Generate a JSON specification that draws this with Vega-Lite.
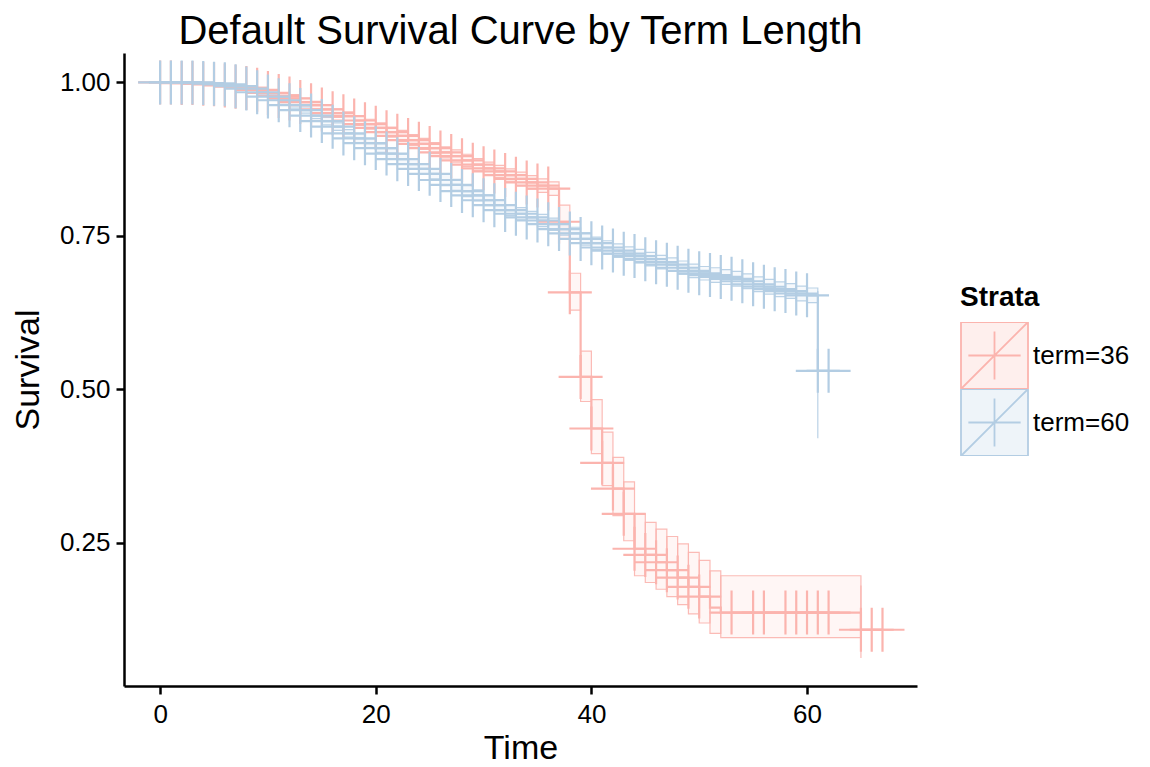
{
  "$schema": "https://vega.github.io/schema/vega-lite/v6.json",
  "width": 793,
  "height": 633,
  "autosize": {"type": "none"},
  "padding": {"left": 124, "top": 53, "right": 233, "bottom": 81},
  "background": "white",
  "config": {
    "view": {"stroke": null},
    "font": "Liberation Sans",
    "axis": {"grid": false, "domainColor": "black", "domainWidth": 2.5, "tickColor": "black", "tickWidth": 2.5, "tickSize": 8, "labelColor": "black", "labelFont": "Liberation Sans", "labelFontSize": 26, "titleFont": "Liberation Sans", "titleFontSize": 34, "titleFontWeight": "normal", "titleColor": "black"}
  },
  "title": {"text": "Default Survival Curve by Term Length", "fontSize": 40, "font": "Liberation Sans", "fontWeight": "normal", "anchor": "middle", "frame": "group", "offset": 1, "color": "black"},
  "datasets": {
    "curve": [
      {"strata": "term=36", "time": 0, "surv": 1.000, "censored": 1},
      {"strata": "term=36", "time": 1, "surv": 1.000, "censored": 1},
      {"strata": "term=36", "time": 2, "surv": 0.999, "censored": 1},
      {"strata": "term=36", "time": 3, "surv": 0.999, "censored": 1},
      {"strata": "term=36", "time": 4, "surv": 0.998, "censored": 1},
      {"strata": "term=36", "time": 5, "surv": 0.997, "censored": 1},
      {"strata": "term=36", "time": 6, "surv": 0.995, "censored": 1},
      {"strata": "term=36", "time": 7, "surv": 0.993, "censored": 1},
      {"strata": "term=36", "time": 8, "surv": 0.991, "censored": 1},
      {"strata": "term=36", "time": 9, "surv": 0.988, "censored": 1},
      {"strata": "term=36", "time": 10, "surv": 0.983, "censored": 1},
      {"strata": "term=36", "time": 11, "surv": 0.978, "censored": 1},
      {"strata": "term=36", "time": 12, "surv": 0.974, "censored": 1},
      {"strata": "term=36", "time": 13, "surv": 0.968, "censored": 1},
      {"strata": "term=36", "time": 14, "surv": 0.963, "censored": 1},
      {"strata": "term=36", "time": 15, "surv": 0.956, "censored": 1},
      {"strata": "term=36", "time": 16, "surv": 0.950, "censored": 1},
      {"strata": "term=36", "time": 17, "surv": 0.945, "censored": 1},
      {"strata": "term=36", "time": 18, "surv": 0.938, "censored": 1},
      {"strata": "term=36", "time": 19, "surv": 0.932, "censored": 1},
      {"strata": "term=36", "time": 20, "surv": 0.926, "censored": 1},
      {"strata": "term=36", "time": 21, "surv": 0.919, "censored": 1},
      {"strata": "term=36", "time": 22, "surv": 0.913, "censored": 1},
      {"strata": "term=36", "time": 23, "surv": 0.906, "censored": 1},
      {"strata": "term=36", "time": 24, "surv": 0.900, "censored": 1},
      {"strata": "term=36", "time": 25, "surv": 0.893, "censored": 1},
      {"strata": "term=36", "time": 26, "surv": 0.886, "censored": 1},
      {"strata": "term=36", "time": 27, "surv": 0.880, "censored": 1},
      {"strata": "term=36", "time": 28, "surv": 0.873, "censored": 1},
      {"strata": "term=36", "time": 29, "surv": 0.866, "censored": 1},
      {"strata": "term=36", "time": 30, "surv": 0.860, "censored": 1},
      {"strata": "term=36", "time": 31, "surv": 0.855, "censored": 1},
      {"strata": "term=36", "time": 32, "surv": 0.849, "censored": 1},
      {"strata": "term=36", "time": 33, "surv": 0.843, "censored": 1},
      {"strata": "term=36", "time": 34, "surv": 0.837, "censored": 1},
      {"strata": "term=36", "time": 35, "surv": 0.832, "censored": 1},
      {"strata": "term=36", "time": 36, "surv": 0.827, "censored": 1},
      {"strata": "term=36", "time": 37, "surv": 0.773, "censored": 1},
      {"strata": "term=36", "time": 38, "surv": 0.658, "censored": 1},
      {"strata": "term=36", "time": 39, "surv": 0.520, "censored": 1},
      {"strata": "term=36", "time": 40, "surv": 0.436, "censored": 1},
      {"strata": "term=36", "time": 41, "surv": 0.380, "censored": 1},
      {"strata": "term=36", "time": 42, "surv": 0.338, "censored": 1},
      {"strata": "term=36", "time": 43, "surv": 0.297, "censored": 1},
      {"strata": "term=36", "time": 44, "surv": 0.240, "censored": 1},
      {"strata": "term=36", "time": 45, "surv": 0.230, "censored": 1},
      {"strata": "term=36", "time": 46, "surv": 0.218, "censored": 1},
      {"strata": "term=36", "time": 47, "surv": 0.205, "censored": 1},
      {"strata": "term=36", "time": 48, "surv": 0.193, "censored": 1},
      {"strata": "term=36", "time": 49, "surv": 0.178, "censored": 1},
      {"strata": "term=36", "time": 50, "surv": 0.162, "censored": 1},
      {"strata": "term=36", "time": 51, "surv": 0.144, "censored": 0},
      {"strata": "term=36", "time": 52, "surv": 0.136, "censored": 0},
      {"strata": "term=36", "time": 53, "surv": 0.136, "censored": 1},
      {"strata": "term=36", "time": 55, "surv": 0.136, "censored": 1},
      {"strata": "term=36", "time": 56, "surv": 0.136, "censored": 1},
      {"strata": "term=36", "time": 58, "surv": 0.136, "censored": 1},
      {"strata": "term=36", "time": 59, "surv": 0.136, "censored": 1},
      {"strata": "term=36", "time": 60, "surv": 0.136, "censored": 1},
      {"strata": "term=36", "time": 61, "surv": 0.136, "censored": 1},
      {"strata": "term=36", "time": 62, "surv": 0.136, "censored": 1},
      {"strata": "term=36", "time": 65, "surv": 0.108, "censored": 1},
      {"strata": "term=36", "time": 66, "surv": 0.108, "censored": 1},
      {"strata": "term=36", "time": 67, "surv": 0.108, "censored": 1},
      {"strata": "term=60", "time": 0, "surv": 1.000, "censored": 1},
      {"strata": "term=60", "time": 1, "surv": 1.000, "censored": 1},
      {"strata": "term=60", "time": 2, "surv": 1.000, "censored": 1},
      {"strata": "term=60", "time": 3, "surv": 1.000, "censored": 1},
      {"strata": "term=60", "time": 4, "surv": 0.999, "censored": 1},
      {"strata": "term=60", "time": 5, "surv": 0.998, "censored": 1},
      {"strata": "term=60", "time": 6, "surv": 0.997, "censored": 1},
      {"strata": "term=60", "time": 7, "surv": 0.994, "censored": 1},
      {"strata": "term=60", "time": 8, "surv": 0.990, "censored": 1},
      {"strata": "term=60", "time": 9, "surv": 0.984, "censored": 1},
      {"strata": "term=60", "time": 10, "surv": 0.977, "censored": 1},
      {"strata": "term=60", "time": 11, "surv": 0.971, "censored": 1},
      {"strata": "term=60", "time": 12, "surv": 0.963, "censored": 1},
      {"strata": "term=60", "time": 13, "surv": 0.955, "censored": 1},
      {"strata": "term=60", "time": 14, "surv": 0.946, "censored": 1},
      {"strata": "term=60", "time": 15, "surv": 0.937, "censored": 1},
      {"strata": "term=60", "time": 16, "surv": 0.928, "censored": 1},
      {"strata": "term=60", "time": 17, "surv": 0.917, "censored": 1},
      {"strata": "term=60", "time": 18, "surv": 0.909, "censored": 1},
      {"strata": "term=60", "time": 19, "surv": 0.901, "censored": 1},
      {"strata": "term=60", "time": 20, "surv": 0.893, "censored": 1},
      {"strata": "term=60", "time": 21, "surv": 0.884, "censored": 1},
      {"strata": "term=60", "time": 22, "surv": 0.875, "censored": 1},
      {"strata": "term=60", "time": 23, "surv": 0.867, "censored": 1},
      {"strata": "term=60", "time": 24, "surv": 0.859, "censored": 1},
      {"strata": "term=60", "time": 25, "surv": 0.851, "censored": 1},
      {"strata": "term=60", "time": 26, "surv": 0.841, "censored": 1},
      {"strata": "term=60", "time": 27, "surv": 0.833, "censored": 1},
      {"strata": "term=60", "time": 28, "surv": 0.823, "censored": 1},
      {"strata": "term=60", "time": 29, "surv": 0.816, "censored": 1},
      {"strata": "term=60", "time": 30, "surv": 0.808, "censored": 1},
      {"strata": "term=60", "time": 31, "surv": 0.800, "censored": 1},
      {"strata": "term=60", "time": 32, "surv": 0.792, "censored": 1},
      {"strata": "term=60", "time": 33, "surv": 0.786, "censored": 1},
      {"strata": "term=60", "time": 34, "surv": 0.780, "censored": 1},
      {"strata": "term=60", "time": 35, "surv": 0.775, "censored": 1},
      {"strata": "term=60", "time": 36, "surv": 0.769, "censored": 1},
      {"strata": "term=60", "time": 37, "surv": 0.761, "censored": 1},
      {"strata": "term=60", "time": 38, "surv": 0.754, "censored": 1},
      {"strata": "term=60", "time": 39, "surv": 0.745, "censored": 1},
      {"strata": "term=60", "time": 40, "surv": 0.738, "censored": 1},
      {"strata": "term=60", "time": 41, "surv": 0.731, "censored": 1},
      {"strata": "term=60", "time": 42, "surv": 0.726, "censored": 1},
      {"strata": "term=60", "time": 43, "surv": 0.721, "censored": 1},
      {"strata": "term=60", "time": 44, "surv": 0.717, "censored": 1},
      {"strata": "term=60", "time": 45, "surv": 0.712, "censored": 1},
      {"strata": "term=60", "time": 46, "surv": 0.707, "censored": 1},
      {"strata": "term=60", "time": 47, "surv": 0.703, "censored": 1},
      {"strata": "term=60", "time": 48, "surv": 0.698, "censored": 1},
      {"strata": "term=60", "time": 49, "surv": 0.693, "censored": 1},
      {"strata": "term=60", "time": 50, "surv": 0.689, "censored": 1},
      {"strata": "term=60", "time": 51, "surv": 0.686, "censored": 1},
      {"strata": "term=60", "time": 52, "surv": 0.683, "censored": 1},
      {"strata": "term=60", "time": 53, "surv": 0.680, "censored": 1},
      {"strata": "term=60", "time": 54, "surv": 0.676, "censored": 1},
      {"strata": "term=60", "time": 55, "surv": 0.671, "censored": 1},
      {"strata": "term=60", "time": 56, "surv": 0.667, "censored": 1},
      {"strata": "term=60", "time": 57, "surv": 0.663, "censored": 1},
      {"strata": "term=60", "time": 58, "surv": 0.660, "censored": 1},
      {"strata": "term=60", "time": 59, "surv": 0.656, "censored": 1},
      {"strata": "term=60", "time": 60, "surv": 0.653, "censored": 1},
      {"strata": "term=60", "time": 61, "surv": 0.530, "censored": 1},
      {"strata": "term=60", "time": 62, "surv": 0.530, "censored": 1}
    ],
    "band": [
      {"strata": "term=36", "start": 0, "end": 1, "lower": 1.000, "upper": 1.000},
      {"strata": "term=36", "start": 1, "end": 2, "lower": 1.000, "upper": 1.000},
      {"strata": "term=36", "start": 2, "end": 3, "lower": 0.998, "upper": 1.000},
      {"strata": "term=36", "start": 3, "end": 4, "lower": 0.998, "upper": 1.000},
      {"strata": "term=36", "start": 4, "end": 5, "lower": 0.996, "upper": 1.000},
      {"strata": "term=36", "start": 5, "end": 6, "lower": 0.995, "upper": 0.999},
      {"strata": "term=36", "start": 6, "end": 7, "lower": 0.992, "upper": 0.998},
      {"strata": "term=36", "start": 7, "end": 8, "lower": 0.990, "upper": 0.996},
      {"strata": "term=36", "start": 8, "end": 9, "lower": 0.987, "upper": 0.995},
      {"strata": "term=36", "start": 9, "end": 10, "lower": 0.984, "upper": 0.992},
      {"strata": "term=36", "start": 10, "end": 11, "lower": 0.978, "upper": 0.988},
      {"strata": "term=36", "start": 11, "end": 12, "lower": 0.973, "upper": 0.983},
      {"strata": "term=36", "start": 12, "end": 13, "lower": 0.968, "upper": 0.980},
      {"strata": "term=36", "start": 13, "end": 14, "lower": 0.962, "upper": 0.974},
      {"strata": "term=36", "start": 14, "end": 15, "lower": 0.957, "upper": 0.969},
      {"strata": "term=36", "start": 15, "end": 16, "lower": 0.949, "upper": 0.963},
      {"strata": "term=36", "start": 16, "end": 17, "lower": 0.943, "upper": 0.957},
      {"strata": "term=36", "start": 17, "end": 18, "lower": 0.938, "upper": 0.952},
      {"strata": "term=36", "start": 18, "end": 19, "lower": 0.930, "upper": 0.946},
      {"strata": "term=36", "start": 19, "end": 20, "lower": 0.924, "upper": 0.940},
      {"strata": "term=36", "start": 20, "end": 21, "lower": 0.918, "upper": 0.934},
      {"strata": "term=36", "start": 21, "end": 22, "lower": 0.911, "upper": 0.927},
      {"strata": "term=36", "start": 22, "end": 23, "lower": 0.904, "upper": 0.922},
      {"strata": "term=36", "start": 23, "end": 24, "lower": 0.897, "upper": 0.915},
      {"strata": "term=36", "start": 24, "end": 25, "lower": 0.891, "upper": 0.909},
      {"strata": "term=36", "start": 25, "end": 26, "lower": 0.884, "upper": 0.902},
      {"strata": "term=36", "start": 26, "end": 27, "lower": 0.877, "upper": 0.895},
      {"strata": "term=36", "start": 27, "end": 28, "lower": 0.870, "upper": 0.890},
      {"strata": "term=36", "start": 28, "end": 29, "lower": 0.863, "upper": 0.883},
      {"strata": "term=36", "start": 29, "end": 30, "lower": 0.856, "upper": 0.876},
      {"strata": "term=36", "start": 30, "end": 31, "lower": 0.850, "upper": 0.870},
      {"strata": "term=36", "start": 31, "end": 32, "lower": 0.845, "upper": 0.865},
      {"strata": "term=36", "start": 32, "end": 33, "lower": 0.839, "upper": 0.859},
      {"strata": "term=36", "start": 33, "end": 34, "lower": 0.832, "upper": 0.854},
      {"strata": "term=36", "start": 34, "end": 35, "lower": 0.826, "upper": 0.848},
      {"strata": "term=36", "start": 35, "end": 36, "lower": 0.821, "upper": 0.843},
      {"strata": "term=36", "start": 36, "end": 37, "lower": 0.816, "upper": 0.838},
      {"strata": "term=36", "start": 37, "end": 38, "lower": 0.745, "upper": 0.800},
      {"strata": "term=36", "start": 38, "end": 39, "lower": 0.629, "upper": 0.689},
      {"strata": "term=36", "start": 39, "end": 40, "lower": 0.480, "upper": 0.562},
      {"strata": "term=36", "start": 40, "end": 41, "lower": 0.395, "upper": 0.483},
      {"strata": "term=36", "start": 41, "end": 42, "lower": 0.343, "upper": 0.430},
      {"strata": "term=36", "start": 42, "end": 43, "lower": 0.294, "upper": 0.389},
      {"strata": "term=36", "start": 43, "end": 44, "lower": 0.253, "upper": 0.349},
      {"strata": "term=36", "start": 44, "end": 45, "lower": 0.196, "upper": 0.297},
      {"strata": "term=36", "start": 45, "end": 46, "lower": 0.185, "upper": 0.283},
      {"strata": "term=36", "start": 46, "end": 47, "lower": 0.174, "upper": 0.272},
      {"strata": "term=36", "start": 47, "end": 48, "lower": 0.162, "upper": 0.260},
      {"strata": "term=36", "start": 48, "end": 49, "lower": 0.149, "upper": 0.248},
      {"strata": "term=36", "start": 49, "end": 50, "lower": 0.134, "upper": 0.234},
      {"strata": "term=36", "start": 50, "end": 51, "lower": 0.119, "upper": 0.221},
      {"strata": "term=36", "start": 51, "end": 52, "lower": 0.102, "upper": 0.204},
      {"strata": "term=36", "start": 52, "end": 65, "lower": 0.095, "upper": 0.196},
      {"strata": "term=36", "start": 65, "end": 65, "lower": 0.062, "upper": 0.180},
      {"strata": "term=60", "start": 0, "end": 1, "lower": 1.000, "upper": 1.000},
      {"strata": "term=60", "start": 1, "end": 2, "lower": 1.000, "upper": 1.000},
      {"strata": "term=60", "start": 2, "end": 3, "lower": 1.000, "upper": 1.000},
      {"strata": "term=60", "start": 3, "end": 4, "lower": 1.000, "upper": 1.000},
      {"strata": "term=60", "start": 4, "end": 5, "lower": 0.998, "upper": 1.000},
      {"strata": "term=60", "start": 5, "end": 6, "lower": 0.997, "upper": 0.999},
      {"strata": "term=60", "start": 6, "end": 7, "lower": 0.995, "upper": 0.999},
      {"strata": "term=60", "start": 7, "end": 8, "lower": 0.992, "upper": 0.996},
      {"strata": "term=60", "start": 8, "end": 9, "lower": 0.987, "upper": 0.993},
      {"strata": "term=60", "start": 9, "end": 10, "lower": 0.981, "upper": 0.987},
      {"strata": "term=60", "start": 10, "end": 11, "lower": 0.973, "upper": 0.981},
      {"strata": "term=60", "start": 11, "end": 12, "lower": 0.967, "upper": 0.975},
      {"strata": "term=60", "start": 12, "end": 13, "lower": 0.958, "upper": 0.968},
      {"strata": "term=60", "start": 13, "end": 14, "lower": 0.950, "upper": 0.960},
      {"strata": "term=60", "start": 14, "end": 15, "lower": 0.941, "upper": 0.951},
      {"strata": "term=60", "start": 15, "end": 16, "lower": 0.931, "upper": 0.943},
      {"strata": "term=60", "start": 16, "end": 17, "lower": 0.922, "upper": 0.934},
      {"strata": "term=60", "start": 17, "end": 18, "lower": 0.911, "upper": 0.923},
      {"strata": "term=60", "start": 18, "end": 19, "lower": 0.902, "upper": 0.916},
      {"strata": "term=60", "start": 19, "end": 20, "lower": 0.894, "upper": 0.908},
      {"strata": "term=60", "start": 20, "end": 21, "lower": 0.886, "upper": 0.900},
      {"strata": "term=60", "start": 21, "end": 22, "lower": 0.876, "upper": 0.892},
      {"strata": "term=60", "start": 22, "end": 23, "lower": 0.867, "upper": 0.883},
      {"strata": "term=60", "start": 23, "end": 24, "lower": 0.859, "upper": 0.875},
      {"strata": "term=60", "start": 24, "end": 25, "lower": 0.851, "upper": 0.867},
      {"strata": "term=60", "start": 25, "end": 26, "lower": 0.843, "upper": 0.859},
      {"strata": "term=60", "start": 26, "end": 27, "lower": 0.832, "upper": 0.850},
      {"strata": "term=60", "start": 27, "end": 28, "lower": 0.824, "upper": 0.842},
      {"strata": "term=60", "start": 28, "end": 29, "lower": 0.814, "upper": 0.832},
      {"strata": "term=60", "start": 29, "end": 30, "lower": 0.807, "upper": 0.825},
      {"strata": "term=60", "start": 30, "end": 31, "lower": 0.799, "upper": 0.817},
      {"strata": "term=60", "start": 31, "end": 32, "lower": 0.791, "upper": 0.809},
      {"strata": "term=60", "start": 32, "end": 33, "lower": 0.783, "upper": 0.801},
      {"strata": "term=60", "start": 33, "end": 34, "lower": 0.776, "upper": 0.796},
      {"strata": "term=60", "start": 34, "end": 35, "lower": 0.770, "upper": 0.790},
      {"strata": "term=60", "start": 35, "end": 36, "lower": 0.765, "upper": 0.785},
      {"strata": "term=60", "start": 36, "end": 37, "lower": 0.759, "upper": 0.779},
      {"strata": "term=60", "start": 37, "end": 38, "lower": 0.751, "upper": 0.771},
      {"strata": "term=60", "start": 38, "end": 39, "lower": 0.744, "upper": 0.764},
      {"strata": "term=60", "start": 39, "end": 40, "lower": 0.735, "upper": 0.755},
      {"strata": "term=60", "start": 40, "end": 41, "lower": 0.728, "upper": 0.748},
      {"strata": "term=60", "start": 41, "end": 42, "lower": 0.720, "upper": 0.742},
      {"strata": "term=60", "start": 42, "end": 43, "lower": 0.715, "upper": 0.737},
      {"strata": "term=60", "start": 43, "end": 44, "lower": 0.710, "upper": 0.732},
      {"strata": "term=60", "start": 44, "end": 45, "lower": 0.706, "upper": 0.728},
      {"strata": "term=60", "start": 45, "end": 46, "lower": 0.701, "upper": 0.723},
      {"strata": "term=60", "start": 46, "end": 47, "lower": 0.696, "upper": 0.718},
      {"strata": "term=60", "start": 47, "end": 48, "lower": 0.692, "upper": 0.714},
      {"strata": "term=60", "start": 48, "end": 49, "lower": 0.687, "upper": 0.709},
      {"strata": "term=60", "start": 49, "end": 50, "lower": 0.682, "upper": 0.704},
      {"strata": "term=60", "start": 50, "end": 51, "lower": 0.678, "upper": 0.700},
      {"strata": "term=60", "start": 51, "end": 52, "lower": 0.674, "upper": 0.698},
      {"strata": "term=60", "start": 52, "end": 53, "lower": 0.671, "upper": 0.695},
      {"strata": "term=60", "start": 53, "end": 54, "lower": 0.668, "upper": 0.692},
      {"strata": "term=60", "start": 54, "end": 55, "lower": 0.664, "upper": 0.688},
      {"strata": "term=60", "start": 55, "end": 56, "lower": 0.659, "upper": 0.683},
      {"strata": "term=60", "start": 56, "end": 57, "lower": 0.655, "upper": 0.679},
      {"strata": "term=60", "start": 57, "end": 58, "lower": 0.651, "upper": 0.675},
      {"strata": "term=60", "start": 58, "end": 59, "lower": 0.648, "upper": 0.672},
      {"strata": "term=60", "start": 59, "end": 60, "lower": 0.644, "upper": 0.668},
      {"strata": "term=60", "start": 60, "end": 61, "lower": 0.641, "upper": 0.665},
      {"strata": "term=60", "start": 61, "end": 61, "lower": 0.420, "upper": 0.660}
    ]
  },
  "encoding": {
    "color": {
      "field": "strata",
      "type": "nominal",
      "scale": {"domain": ["term=36", "term=60"], "range": ["#FBB4AE", "#B3CDE3"]},
      "legend": {
        "title": "Strata",
        "orient": "none",
        "legendX": 836,
        "legendY": 231,
        "titleFont": "Liberation Sans",
        "titleFontSize": 28,
        "titleFontWeight": "bold",
        "titleColor": "black",
        "titlePadding": 10,
        "labelFont": "Liberation Sans",
        "labelFontSize": 26,
        "labelColor": "black",
        "labelOffset": 4,
        "symbolType": "M-1,-1H1V1H-1Z M-1,1L1,-1 M-0.78,0H0.78 M0,-0.72V0.72",
        "symbolSize": 4489,
        "symbolStrokeWidth": 1.8,
        "clipHeight": 67,
        "rowPadding": 0,
        "padding": 0,
        "encode": {
          "symbols": {
            "update": {
              "fill": {"scale": "color", "field": "value"},
              "stroke": {"scale": "color", "field": "value"},
              "fillOpacity": {"value": 0.22},
              "strokeOpacity": {"value": 1},
              "opacity": {"value": 1}
            }
          }
        }
      }
    }
  },
  "layer": [
    {
      "data": {"name": "band"},
      "mark": {"type": "rect", "fillOpacity": 0.12, "strokeWidth": 1.2, "strokeOpacity": 0.9},
      "encoding": {
        "x": {"field": "start", "type": "quantitative", "scale": {"domain": [-3.35, 70.2], "nice": false, "zero": false}, "axis": {"title": "Time", "values": [0, 20, 40, 60], "labelPadding": 7, "titlePadding": 4}},
        "x2": {"field": "end"},
        "y": {"field": "lower", "type": "quantitative", "scale": {"domain": [0.0163, 1.048], "nice": false, "zero": false}, "axis": {"title": "Survival", "values": [0.25, 0.5, 0.75, 1.0], "format": ".2f", "labelPadding": 6, "titlePadding": 14}},
        "y2": {"field": "upper"},
        "stroke": {"field": "strata", "type": "nominal", "scale": {"domain": ["term=36", "term=60"], "range": ["#FBB4AE", "#B3CDE3"]}, "legend": null}
      }
    },
    {
      "data": {"name": "curve"},
      "mark": {"type": "line", "interpolate": "step-after", "strokeWidth": 2.2},
      "encoding": {
        "x": {"field": "time", "type": "quantitative"},
        "y": {"field": "surv", "type": "quantitative"}
      }
    },
    {
      "data": {"name": "curve"},
      "transform": [{"filter": "datum.censored == 1"}],
      "mark": {"type": "point", "shape": "M-1,0H1M0,-1V1", "size": 1936, "filled": false, "strokeWidth": 2.2, "opacity": 1},
      "encoding": {
        "x": {"field": "time", "type": "quantitative"},
        "y": {"field": "surv", "type": "quantitative"}
      }
    }
  ]
}
